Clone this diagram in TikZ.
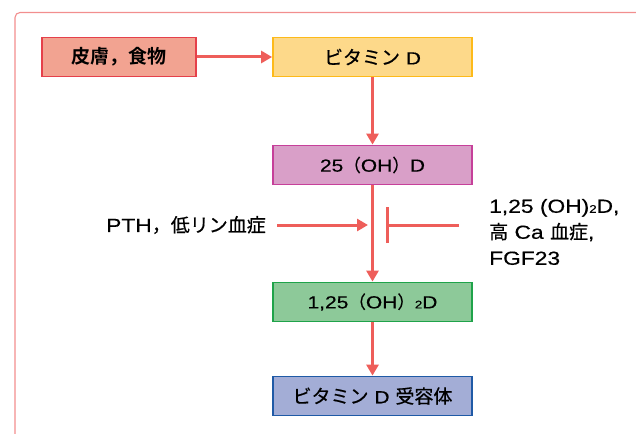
\documentclass[tikz,border=0pt]{standalone}
\usepackage{fontspec}
\setmainfont{Liberation Sans}[FakeStretch=1.2, FakeBold=0.4]
\newfontfamily\jp{Noto Sans CJK JP}[FakeBold=0.5, BoldFont={* Bold}, BoldFeatures={FakeBold=0}]
\usetikzlibrary{arrows.meta}
\definecolor{framec}{HTML}{F28E8E}
\definecolor{arr}{HTML}{EE5E5A}
\definecolor{f1}{HTML}{F2A391}\definecolor{d1}{HTML}{E5404A}
\definecolor{f2}{HTML}{FDD98A}\definecolor{d2}{HTML}{FDBA1A}
\definecolor{f3}{HTML}{D99FC8}\definecolor{d3}{HTML}{C6409A}
\definecolor{f4}{HTML}{8DC999}\definecolor{d4}{HTML}{1FA34A}
\definecolor{f5}{HTML}{A3ADD6}\definecolor{d5}{HTML}{1F5AA6}
\newcommand{\sub}[1]{{\fontsize{11}{12}\selectfont #1}}
\tikzset{
  bx/.style={draw=#1, line width=1.8pt, minimum width=199pt, minimum height=39pt, inner sep=0pt, font=\fontsize{17.5}{20}\selectfont},
  ar/.style={draw=arr, line width=3pt, -{Triangle[length=11pt,width=12pt]}},
  lbl/.style={font=\fontsize{19}{20}\selectfont, inner sep=0pt}
}
\begin{document}
\begin{tikzpicture}[x=1pt,y=-1pt]
\useasboundingbox (0,0) rectangle (636,433);
\clip (0,0) rectangle (636,433);
\draw[framec, line width=1.1pt, rounded corners=5pt] (15,450) |- (660,12.5);
\node[bx=d1, fill=f1, minimum width=154pt] (skin) at (119,57) {\jp\bfseries\fontsize{19}{20}\selectfont 皮膚，食物};
\node[bx=d2, fill=f2] (vd) at (372.5,57) {{\jp\fontsize{19}{20}\selectfont ビタミン} D};
\node[bx=d3, fill=f3] (oh) at (372.5,165) {25{\jp（}OH{\jp）}D};
\node[bx=d4, fill=f4] (dioh) at (372.5,302) {1,25{\jp（}OH{\jp）}\sub{2}D};
\node[bx=d5, fill=f5] (vdr) at (372.5,396) {{\jp\fontsize{19}{20}\selectfont ビタミン} D {\jp\fontsize{19}{20}\selectfont 受容体}};
\coordinate (jn) at (372.5,225);
\draw[ar] (skin) -- (vd);
\draw[ar] (vd) -- (oh);
\draw[ar] (oh) -- (dioh);
\draw[ar] (dioh) -- (vdr);
\node[lbl, anchor=east] (pth) at (266,225) {PTH{\jp，}{\jp\fontsize{19}{20}\selectfont 低リン血症}};
\draw[ar] (pth.east) ++(11,0) coordinate (pthS) -- ([xshift=-4.5pt]jn);
\coordinate (bar) at (387.5,225);
\node[lbl, anchor=west, align=left, font=\fontsize{19}{26}\selectfont] (inh) at (489,232) {1,25 (OH)\sub{2}D,\\{\jp\fontsize{19}{20}\selectfont 高} Ca {\jp\fontsize{19}{20}\selectfont 血症},\\FGF23};
\draw[arr, line width=3pt] (inh.west |- bar) ++(-30,0) -- (bar);
\draw[arr, line width=3pt] ([yshift=-18pt]bar) -- ([yshift=18pt]bar);
\end{tikzpicture}
\end{document}
